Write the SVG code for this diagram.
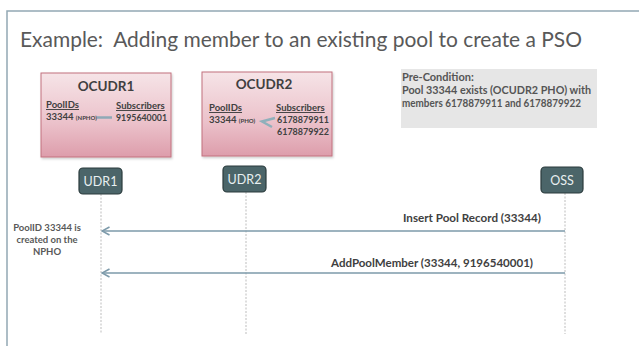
<svg xmlns="http://www.w3.org/2000/svg" width="639" height="346" viewBox="0 0 639 346">
<defs>
<linearGradient id="pink" x1="0" y1="0" x2="0" y2="1">
<stop offset="0" stop-color="#f6e4e7"/>
<stop offset="0.6" stop-color="#ebc1ca"/>
<stop offset="1" stop-color="#dd9dab"/>
</linearGradient>
<marker id="open" viewBox="0 0 12 12" refX="10.5" refY="6" markerWidth="12" markerHeight="12" markerUnits="userSpaceOnUse" orient="auto">
<path d="M3,2 L10.5,6 L3,10" fill="none" stroke="#7d9aaa" stroke-width="1.6"/>
</marker>
<filter id="sh" x="-10%" y="-10%" width="130%" height="130%">
<feDropShadow dx="1" dy="1.5" stdDeviation="1" flood-color="#000" flood-opacity="0.2"/>
</filter>
</defs>
<style>
text{font-family:Lato,"Liberation Sans",sans-serif;fill:#595959}
.b{font-weight:bold}
.box{fill:url(#pink);stroke:#c2707f;stroke-width:1}
.hdr{font-size:13.5px;font-weight:bold;fill:#404040}
.sm{font-size:9.5px;font-weight:bold;fill:#404040}
.u{text-decoration:underline}
.life{stroke:#bdbdbd;stroke-width:1;stroke-dasharray:2,1.5}
.actor{fill:#4b6569;stroke:#2b3b3d;stroke-width:1.2}
.al{font-size:12.5px;fill:#e9f0f1;text-anchor:middle}
.msg{stroke:#7d9aaa;stroke-width:1.5;fill:none}
.ml{font-size:12px;font-weight:bold;fill:#404040;text-anchor:end}
.frame{stroke:#93a8b4;stroke-width:1.5;fill:none}
.pc{font-size:11px;font-weight:bold;fill:#555555}
.nt{font-size:9.5px;font-weight:bold;fill:#595959;text-anchor:middle}
</style>
<rect width="639" height="346" fill="#ffffff"/>
<path class="frame" d="M639,11 H7 V346"/>
<text x="20" y="47" font-size="22" xml:space="preserve" style="white-space:pre" textLength="562" lengthAdjust="spacingAndGlyphs">Example:  Adding member to an existing pool to create a PSO</text>

<g id="ocudr1">
<rect class="box" x="41" y="73" width="130" height="84" filter="url(#sh)"/>
<text class="hdr" x="106" y="91" text-anchor="middle">OCUDR1</text>
<text class="sm u" x="46" y="108">PoolIDs</text>
<text class="sm u" x="116" y="109">Subscribers</text>
<text class="sm" x="46" y="120">33344 <tspan font-size="6">(NPHO)</tspan></text>
<line x1="97" y1="117.5" x2="112" y2="117.5" stroke="#8fa9b6" stroke-width="2.5"/>
<text class="sm" x="116" y="121" textLength="51" lengthAdjust="spacingAndGlyphs">9195640001</text>
</g>

<g id="ocudr2">
<rect class="box" x="202" y="72" width="130" height="84" filter="url(#sh)"/>
<text class="hdr" x="264" y="89" text-anchor="middle">OCUDR2</text>
<text class="sm u" x="209" y="111">PoolIDs</text>
<text class="sm u" x="276" y="111">Subscribers</text>
<text class="sm" x="209" y="123">33344 <tspan font-size="6">(PHO)</tspan></text>
<text class="sm" x="277" y="123" textLength="52" lengthAdjust="spacingAndGlyphs">6178879911</text>
<text class="sm" x="277" y="135" textLength="52" lengthAdjust="spacingAndGlyphs">6178879922</text>
<polyline points="275,118 262,121.5 272,127" fill="none" stroke="#8fb0bb" stroke-width="2.5"/>
</g>

<g id="precondition">
<rect x="401" y="69" width="196" height="59" fill="#e6e6e6"/>
<text class="pc" x="402" y="81">Pre-Condition:</text>
<text class="pc" x="402" y="94" textLength="189" lengthAdjust="spacingAndGlyphs">Pool 33344 exists (OCUDR2 PHO) with</text>
<text class="pc" x="402" y="107" textLength="179" lengthAdjust="spacingAndGlyphs">members 6178879911 and 6178879922</text>
</g>

<g id="lifelines">
<line class="life" x1="101" y1="194" x2="101" y2="334"/>
<line class="life" x1="246" y1="192" x2="246" y2="334"/>
<line class="life" x1="565" y1="193" x2="565" y2="334"/>
</g>

<g id="udr1">
<rect class="actor" x="79" y="168" width="43" height="26" rx="4"/>
<text class="al" x="100.5" y="185.5">UDR1</text>
</g>
<g id="udr2">
<rect class="actor" x="223" y="166" width="43" height="26" rx="4"/>
<text class="al" x="244.5" y="183.5">UDR2</text>
</g>
<g id="oss">
<rect class="actor" x="541" y="167" width="42" height="26" rx="4"/>
<text class="al" x="562" y="184.5">OSS</text>
</g>

<g id="connectors">
<line class="msg" x1="565" y1="231" x2="102" y2="231" marker-end="url(#open)"/>
<text class="ml" x="541" y="222" textLength="138" lengthAdjust="spacingAndGlyphs">Insert Pool Record (33344)</text>
<line class="msg" x1="565" y1="273" x2="102" y2="273" marker-end="url(#open)"/>
<text class="ml" x="533" y="267" textLength="202" lengthAdjust="spacingAndGlyphs">AddPoolMember (33344, 9196540001)</text>
</g>

<g id="note">
<text class="nt" x="47" y="231">PoolID 33344 is</text>
<text class="nt" x="47" y="243">created on the</text>
<text class="nt" x="47" y="255">NPHO</text>
</g>
</svg>
